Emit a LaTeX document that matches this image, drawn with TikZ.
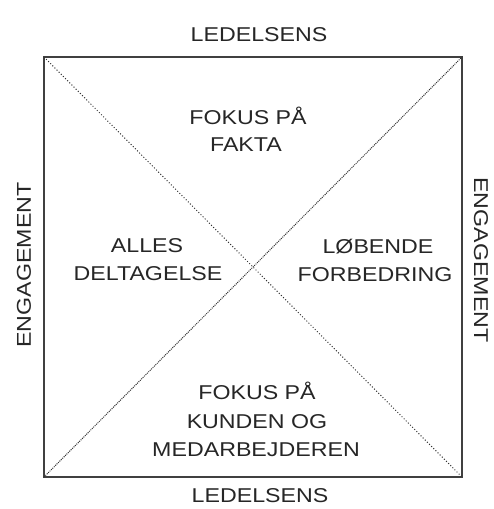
\documentclass[tikz,border=0pt]{standalone}
\usepackage{fontspec}
\newfontfamily\lblfont[FakeStretch=1.16]{Liberation Sans}
\begin{document}
\begin{tikzpicture}[x=1pt,y=-1pt,
  lbl/.style={font=\lblfont\fontsize{20}{27}\selectfont, inner sep=0pt, text=black!85, anchor=base},
  side/.style={font=\lblfont\fontsize{20}{27}\selectfont, inner sep=0pt, text=black!85},
  frame/.style={draw=black!75, line width=1.8pt},
  diag/.style={draw=black!80, line width=1pt, dotted}]
\useasboundingbox (0,0) rectangle (493,509);
\coordinate (tl) at (44,57);
\coordinate (tr) at (462,57);
\coordinate (bl) at (44,477);
\coordinate (br) at (462,477);
\draw[frame] (tl) rectangle (br);
\draw[diag] (tl) -- (br);
\draw[diag, densely dotted] (bl) -- (tr);
\node[lbl] (top) at (259,41) {LEDELSENS};
\node[lbl] (bot) at (260,502) {LEDELSENS};
\node[lbl] (fakta1) at (248,124) {FOKUS PÅ};
\node[lbl] (fakta2) at (246,151) {FAKTA};
\node[lbl] (alles1) at (147,252) {ALLES};
\node[lbl] (alles2) at (148,280) {DELTAGELSE};
\node[lbl] (lob1) at (378,253) {LØBENDE};
\node[lbl] (lob2) at (375,281) {FORBEDRING};
\node[lbl] (kunde1) at (257,399) {FOKUS PÅ};
\node[lbl] (kunde2) at (257,428) {KUNDEN OG};
\node[lbl] (kunde3) at (256,456) {MEDARBEJDEREN};
\node[side, rotate=90] (left) at (24,265) {ENGAGEMENT};
\node[side, rotate=-90] (right) at (481,260) {ENGAGEMENT};
\end{tikzpicture}
\end{document}
